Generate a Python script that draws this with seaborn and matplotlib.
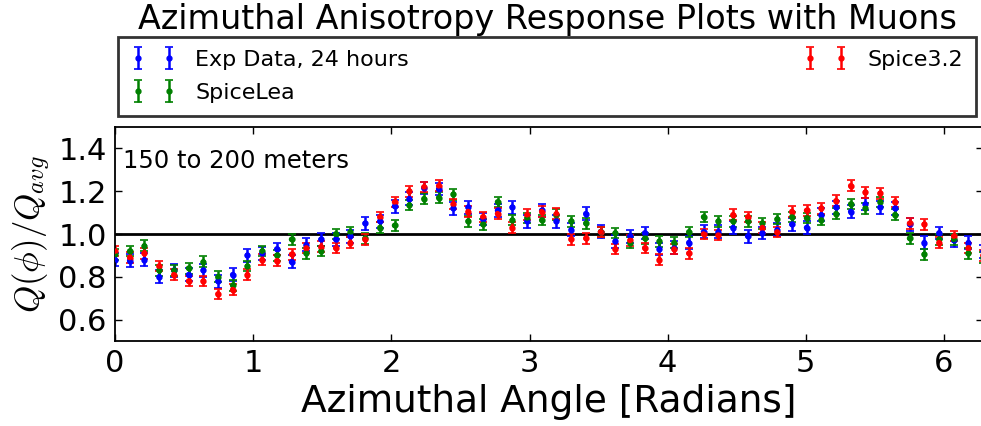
import numpy as np
import pandas as pd
import matplotlib
matplotlib.use("Agg")
import matplotlib.pyplot as plt
import seaborn as sns

# angle bins: 60 points spanning 0..2pi
angles = np.linspace(0, 2 * np.pi, 60)

exp_data = [0.88, 0.875, 0.88, 0.80, 0.83, 0.81, 0.83, 0.78, 0.81, 0.90,
            0.91, 0.93, 0.87, 0.95, 0.975, 0.975, 0.99, 1.05, 1.06, 1.13,
            1.165, 1.215, 1.21, 1.12, 1.125, 1.07, 1.11, 1.125, 1.06, 1.11,
            1.06, 1.02, 1.095, 1.01, 0.965, 0.99, 1.005, 0.93, 0.935, 0.96,
            1.01, 1.01, 1.03, 0.99, 1.005, 1.02, 1.045, 1.03, 1.09, 1.125,
            1.105, 1.14, 1.125, 1.12, 1.045, 0.96, 1.005, 0.97, 0.96, 0.92]
spice_lea = [0.905, 0.92, 0.945, 0.83, 0.83, 0.84, 0.87, 0.80, 0.76, 0.85,
             0.92, 0.90, 0.975, 0.91, 0.92, 1.00, 1.01, 0.98, 1.03, 1.04,
             1.135, 1.165, 1.17, 1.185, 1.06, 1.045, 1.15, 1.065, 1.075, 1.065,
             1.09, 1.06, 1.05, 1.01, 1.005, 0.96, 0.98, 0.965, 0.96, 1.01,
             1.08, 1.06, 1.06, 1.06, 1.05, 1.07, 1.08, 1.075, 1.065, 1.095,
             1.14, 1.12, 1.15, 1.09, 0.98, 0.905, 0.975, 0.975, 0.91, 0.89]
spice32 = [0.92, 0.89, 0.91, 0.85, 0.81, 0.78, 0.78, 0.72, 0.74, 0.81,
           0.88, 0.875, 0.905, 0.935, 0.94, 0.935, 0.96, 0.975, 1.08, 1.15,
           1.20, 1.22, 1.225, 1.14, 1.105, 1.08, 1.095, 1.03, 1.09, 1.105,
           1.095, 0.975, 0.98, 1.01, 0.93, 0.97, 0.935, 0.88, 0.93, 0.91,
           1.0, 0.995, 1.09, 1.08, 1.03, 1.01, 1.105, 1.11, 1.12, 1.155,
           1.225, 1.195, 1.19, 1.15, 1.05, 1.045, 0.96, 0.99, 0.935, 0.90]

series_names = ["Exp Data, 24 hours", "SpiceLea", "Spice3.2"]
series_colors = ["#0000ff", "#008000", "#ff0000"]
series_errors = [0.03, 0.025, 0.025]

df = pd.DataFrame({
    "angle": np.tile(angles, 3),
    "ratio": exp_data + spice_lea + spice32,
    "series": np.repeat(series_names, len(angles)),
})

sns.set_style("ticks")
plt.rcParams["font.family"] = ["DejaVu Sans"]
plt.rcParams["mathtext.fontset"] = "cm"
plt.rcParams["text.color"] = "black"
plt.rcParams["axes.labelcolor"] = "black"
plt.rcParams["xtick.color"] = "black"
plt.rcParams["ytick.color"] = "black"

fig = plt.figure(figsize=(9.81, 4.26), dpi=100)
ax = fig.add_axes([0.1172, 0.1995, 0.885, 0.5024])

# error bars per series
for name, col, err in zip(series_names, series_colors, series_errors):
    sub = df[df["series"] == name]
    ax.errorbar(sub["angle"], sub["ratio"], yerr=err, fmt="o", color=col,
                ms=3.5, elinewidth=1.8, capsize=3, capthick=1.2, label=name)

sns.scatterplot(data=df, x="angle", y="ratio", hue="series",
                palette=dict(zip(series_names, series_colors)),
                s=16, linewidth=0, legend=False, ax=ax, zorder=3)

ax.axhline(1.0, color="black", lw=2, zorder=1)

ax.set_xlim(0, 2 * np.pi)
ax.set_ylim(0.5, 1.5)
ax.set_xticks([0, 1, 2, 3, 4, 5, 6])
ax.set_yticks([0.6, 0.8, 1.0, 1.2, 1.4])
ax.tick_params(direction="in", length=5, width=1, top=True, right=True,
               labelsize=22, pad=6, colors="black")
for s in ax.spines.values():
    s.set_linewidth(1.3)
    s.set_color("black")
    s.set_visible(True)

ax.set_xlabel("Azimuthal Angle [Radians]", fontsize=27, labelpad=4)
ax.set_ylabel(r"$Q(\phi)/Q_{avg}$", fontsize=25, labelpad=4)

fig.text(0.558, 0.932, "Azimuthal Anisotropy Response Plots with Muons",
         fontsize=24, ha="center", va="baseline", color="black")

ax.text(0.009, 0.84, "150 to 200 meters", transform=ax.transAxes,
        fontsize=17.5, va="center", ha="left")

leg = ax.legend(loc="upper left", bbox_to_anchor=(0.1203, 0.7347, 0.8746, 0.1784),
                bbox_transform=fig.transFigure, mode="expand", ncol=2,
                numpoints=2, fontsize=16, frameon=True, fancybox=False,
                borderaxespad=0, handlelength=2.0, labelspacing=0.58,
                borderpad=0.58, handletextpad=0.9)
leg.get_frame().set_edgecolor("black")
leg.get_frame().set_linewidth(2)
for t in leg.get_texts():
    t.set_color("black")

fig.savefig("out.png", dpi=100)
